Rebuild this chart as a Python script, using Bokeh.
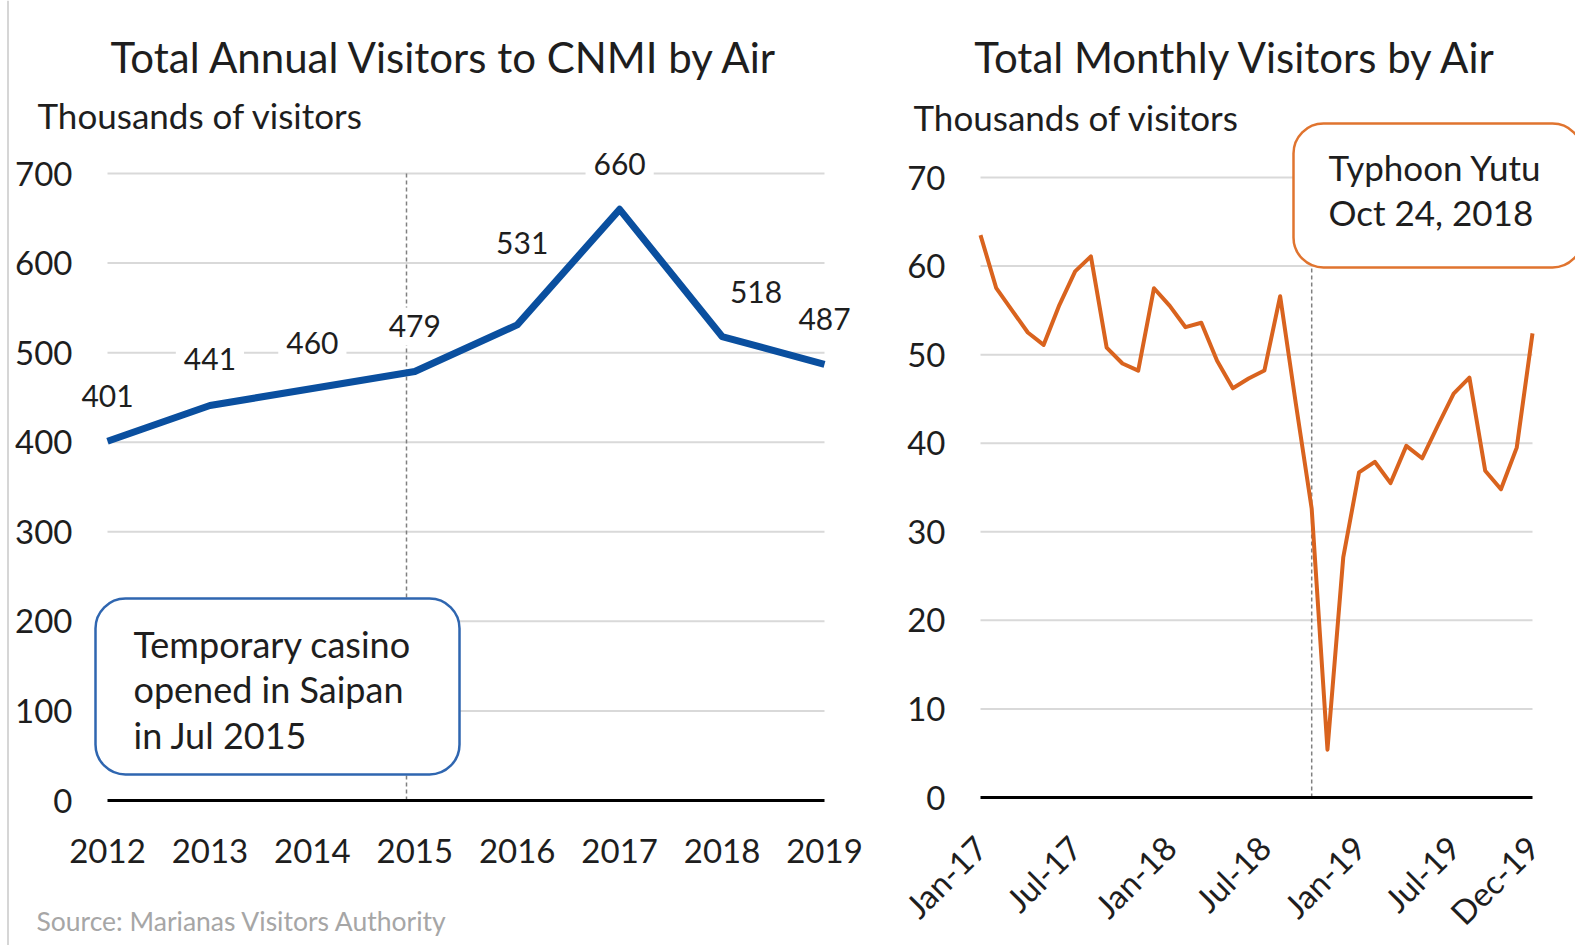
import math
from bokeh.plotting import figure
from bokeh.models import Range1d, FixedTicker, Label, BoxAnnotation, Span
from bokeh.layouts import row
from bokeh.embed import file_html
from bokeh.resources import INLINE

# ---------------- data ----------------
years = [2012, 2013, 2014, 2015, 2016, 2017, 2018, 2019]
annual_visitors = [401, 441, 460, 479, 531, 660, 518, 487]
annual_yticks = [0, 100, 200, 300, 400, 500, 600, 700]

months = ["Jan-17", "Feb-17", "Mar-17", "Apr-17", "May-17", "Jun-17",
          "Jul-17", "Aug-17", "Sep-17", "Oct-17", "Nov-17", "Dec-17",
          "Jan-18", "Feb-18", "Mar-18", "Apr-18", "May-18", "Jun-18",
          "Jul-18", "Aug-18", "Sep-18", "Oct-18", "Nov-18", "Dec-18",
          "Jan-19", "Feb-19", "Mar-19", "Apr-19", "May-19", "Jun-19",
          "Jul-19", "Aug-19", "Sep-19", "Oct-19", "Nov-19", "Dec-19"]
monthly_visitors = [63.5, 57.5, 55.0, 52.5, 51.1, 55.6,
                    59.4, 61.1, 50.8, 49.0, 48.2, 57.5,
                    55.5, 53.1, 53.6, 49.3, 46.2, 47.3,
                    48.2, 56.6, 44.4, 32.6, 5.4, 27.1,
                    36.7, 37.9, 35.5, 39.7, 38.3, 42.0,
                    45.6, 47.4, 36.9, 34.8, 39.5, 52.4]
monthly_yticks = [0, 10, 20, 30, 40, 50, 60, 70]
monthly_xtick_labels = ["Jan-17", "Jul-17", "Jan-18", "Jul-18", "Jan-19", "Jul-19", "Dec-19"]
typhoon_month = "Oct-18"

# ---------------- styles ----------------
FONT = "Lato"
TXT = "#1e1e1e"
GRID = "#D9D9D9"
BLUE = "#0A4F9F"
ORANGE = "#D9631E"
BOX_BLUE = "#2F66B0"
BOX_ORANGE = "#E0742F"
label_dx = [0, 0, 0, 0, 5, 0, 34, 0]
label_dy = [45, 46, 45, 45, 82, 45, 45, 45]

H = 945
L_W = 870
R_OFF = L_W
R_W = 705


def style_axes(p):
    for ax in (p.xaxis[0], p.yaxis[0]):
        ax.major_tick_line_color = None
        ax.minor_tick_line_color = None
        ax.major_tick_in = 0
        ax.major_tick_out = 0
        ax.minor_tick_in = 0
        ax.minor_tick_out = 0
        ax.major_label_text_font = FONT
        ax.major_label_text_font_size = "33px"
        ax.major_label_text_color = TXT
    p.xaxis.axis_line_width = 3
    p.xaxis.axis_line_color = "black"
    p.yaxis.axis_line_color = None


def txt(p, x, y, text, size, align="left", baseline="middle", color=TXT, **kw):
    p.add_layout(Label(x=x, y=y, text=text, text_align=align, text_baseline=baseline,
                       text_font=FONT, text_font_size=size, text_color=color, **kw))


# ---------------- left chart ----------------
ppx = (824 - 107) / (years[-1] - years[0])
ppy = (800 - 173) / annual_yticks[-1]
def lx(px): return years[0] + (px - 107) / ppx
def ly(py): return (800 - py) / ppy

L = figure(width=L_W, height=H, x_range=Range1d(lx(0), lx(L_W)),
           y_range=Range1d(ly(H), ly(0)), min_border=0,
           output_backend="svg", toolbar_location=None)
L.title.visible = False
L.outline_line_color = None
L.grid.visible = False
L.xaxis.ticker = FixedTicker(ticks=years)
L.xaxis.bounds = (years[0], years[-1])
L.xaxis.fixed_location = 0
L.yaxis.ticker = FixedTicker(ticks=annual_yticks)
L.yaxis.fixed_location = years[0]
style_axes(L)
L.xaxis.major_label_standoff = 38
L.yaxis.major_label_standoff = 35

L.add_layout(Span(location=lx(7.5), dimension="height", line_color="#C8C8C8", line_width=1.5))

gy = [t for t in annual_yticks if t > 0]
L.segment(x0=[years[0]] * len(gy), y0=gy, x1=[years[-1]] * len(gy), y1=gy,
          line_color=GRID, line_width=2)
casino_x = lx(406)
L.segment(x0=[casino_x], y0=[0], x1=[casino_x], y1=[annual_yticks[-1]],
          line_color="#808080", line_width=1.5, line_dash="4 3")
L.line(years, annual_visitors, line_color=BLUE, line_width=7, line_join="round")

for yr, v, dx, dy in zip(years, annual_visitors, label_dx, label_dy):
    txt(L, yr, v, str(v), "30px", align="center",
        x_offset=dx, y_offset=dy, background_fill_color="white", padding=8)

L.add_layout(BoxAnnotation(left=lx(95), right=lx(459), top=ly(598), bottom=ly(774),
                           fill_color="white", fill_alpha=1.0,
                           line_color=BOX_BLUE, line_alpha=1.0, line_width=2.5,
                           border_radius=30))
for t, cy in zip(["Temporary casino", "opened in Saipan", "in Jul 2015"], [643, 688, 734]):
    txt(L, lx(133), ly(cy), t, "36px")

txt(L, lx(445), ly(56), "Total Annual Visitors to CNMI by Air", "42px", align="center")
txt(L, lx(37), ly(114.5), "Thousands of visitors", "35px")
txt(L, lx(36), ly(920), "Source: Marianas Visitors Authority", "26.5px", color="#A6A6A6")

# ---------------- right chart ----------------
mx = list(range(len(months)))
rppx = (1532 - 980) / (len(months) - 1)
rppy = (797 - 177) / monthly_yticks[-1]
def rx(px): return (px - 980) / rppx
def ry(py): return (797 - py) / rppy

R = figure(width=R_W, height=H, x_range=Range1d(rx(R_OFF), rx(R_OFF + R_W)),
           y_range=Range1d(ry(H), ry(0)), min_border=0,
           output_backend="svg", toolbar_location=None)
R.title.visible = False
R.outline_line_color = None
R.grid.visible = False
tick_pos = [months.index(m) for m in monthly_xtick_labels]
R.xaxis.ticker = FixedTicker(ticks=tick_pos)
R.xaxis.major_label_overrides = {p: m for p, m in zip(tick_pos, monthly_xtick_labels)}
R.xaxis.bounds = (0, len(months) - 1)
R.xaxis.fixed_location = 0
R.xaxis.major_label_orientation = math.pi / 4
R.yaxis.ticker = FixedTicker(ticks=monthly_yticks)
R.yaxis.fixed_location = 0
style_axes(R)
R.xaxis.major_label_standoff = 44
R.yaxis.major_label_standoff = 35

rgy = [t for t in monthly_yticks if t > 0]
R.segment(x0=[0] * len(rgy), y0=rgy, x1=[len(months) - 1] * len(rgy), y1=rgy,
          line_color=GRID, line_width=2)
ti = months.index(typhoon_month)
R.segment(x0=[ti], y0=[0], x1=[ti], y1=[monthly_yticks[-1]],
          line_color="#808080", line_width=1.5, line_dash="4 3")
R.line(mx, monthly_visitors, line_color=ORANGE, line_width=4, line_join="round")

R.add_layout(BoxAnnotation(left=rx(1293), right=rx(1582), top=ry(123), bottom=ry(267),
                           fill_color="white", fill_alpha=1.0,
                           line_color=BOX_ORANGE, line_alpha=1.0, line_width=2.5,
                           border_radius=30))
for t, cy in zip(["Typhoon Yutu", "Oct 24, 2018"], [166.5, 211.5]):
    txt(R, rx(1328), ry(cy), t, "35px")

txt(R, rx(1236), ry(56), "Total Monthly Visitors by Air", "42px", align="center")
txt(R, rx(913), ry(116.5), "Thousands of visitors", "35px")

layout = row(L, R)
open("out.html", "w").write(file_html(layout, INLINE))
